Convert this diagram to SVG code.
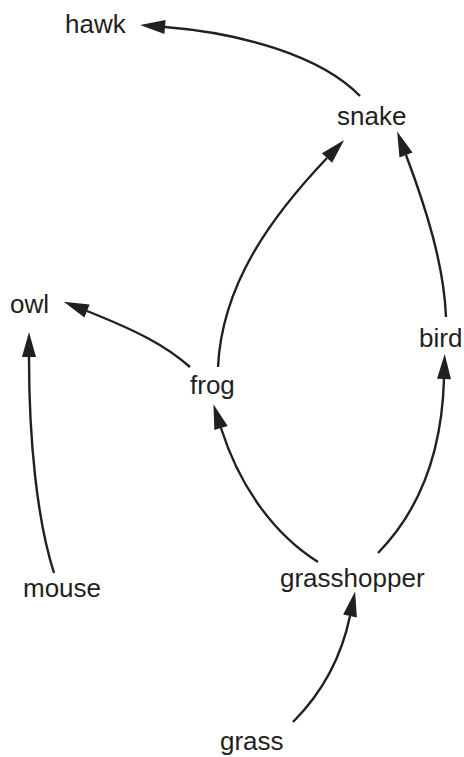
<svg xmlns="http://www.w3.org/2000/svg" width="464" height="757" viewBox="0 0 464 757">
<style>
.lbl{font-family:"Liberation Sans",Arial,sans-serif;font-size:26px;fill:#231f20}
.edge{fill:none;stroke:#231f20;stroke-width:2.4;marker-end:url(#ah)}
</style>
<defs>
<marker id="ah" markerUnits="userSpaceOnUse" markerWidth="26" markerHeight="15" refX="0" refY="7" orient="auto" overflow="visible">
<path d="M0,0 L25,7 L0,14 z" fill="#231f20"/>
</marker>
</defs>
<rect width="464" height="757" fill="#ffffff"/>
<g id="connectors">
<path class="edge" d="M360,96 C320,55 240,33 165,27"/>
<path class="edge" d="M218,367 C222,285 270,218 327,158"/>
<path class="edge" d="M446,317 C444,265 426,208 406,155"/>
<path class="edge" d="M378,553 C420,510 442,450 444,379"/>
<path class="edge" d="M318,562 C275,535 240,488 221,428"/>
<path class="edge" d="M190,367 C165,345 137,331 87,311"/>
<path class="edge" d="M54,573 C37,520 29,440 29,357"/>
<path class="edge" d="M293,722 C318,697 340,664 350,616"/>
</g>
<g id="hawk"><text class="lbl" x="65" y="33">hawk</text></g>
<g id="snake"><text class="lbl" x="337" y="125">snake</text></g>
<g id="owl"><text class="lbl" x="10" y="313">owl</text></g>
<g id="bird"><text class="lbl" x="419" y="347">bird</text></g>
<g id="frog"><text class="lbl" x="190" y="394">frog</text></g>
<g id="mouse"><text class="lbl" x="23" y="597">mouse</text></g>
<g id="grasshopper"><text class="lbl" x="280" y="587">grasshopper</text></g>
<g id="grass"><text class="lbl" x="220" y="750">grass</text></g>
</svg>
